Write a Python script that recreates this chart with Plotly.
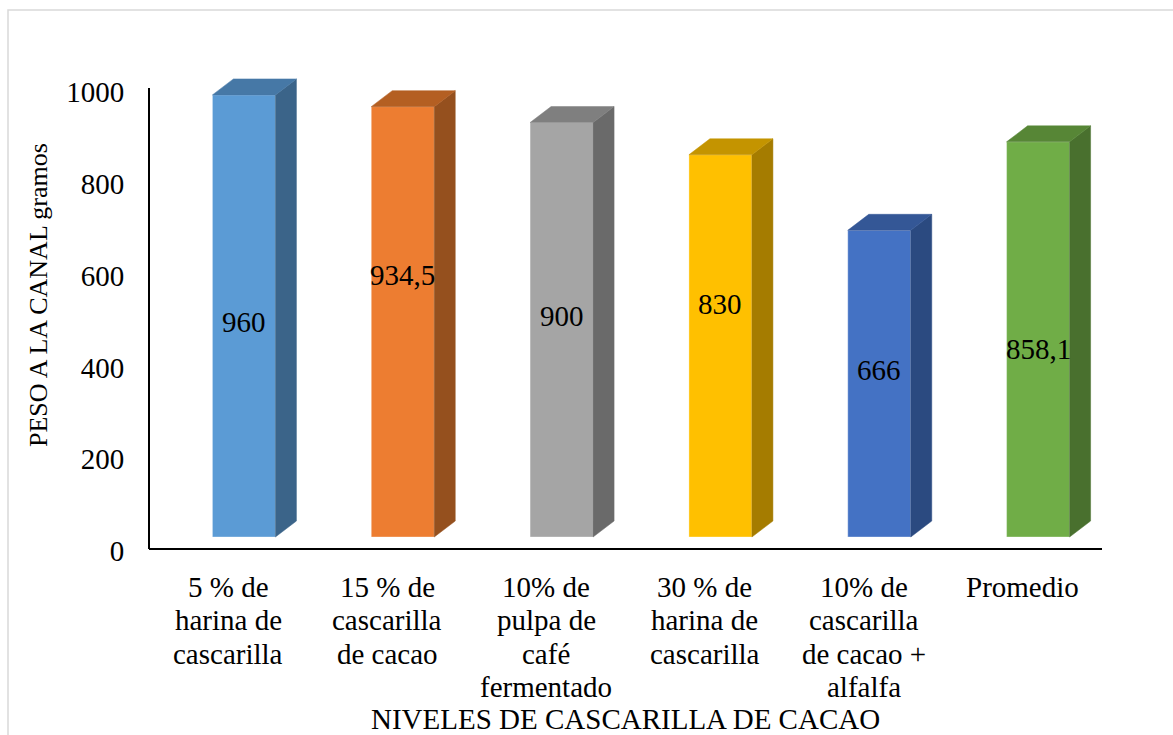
import plotly.graph_objects as go

# ---------------- data ----------------
categories = [
    "5 % de<br>harina de<br>cascarilla",
    "15 % de<br>cascarilla<br>de cacao",
    "10% de<br>pulpa de<br>café<br>fermentado",
    "30 % de<br>harina de<br>cascarilla",
    "10% de<br>cascarilla<br>de cacao +<br>alfalfa",
    "Promedio",
]
values = [960, 934.5, 900, 830, 666, 858.1]
value_labels = ["960", "934,5", "900", "830", "666", "858,1"]
y_ticks = [0, 200, 400, 600, 800, 1000]
x_title = "NIVELES DE CASCARILLA DE CACAO"
y_title = "PESO A LA CANAL gramos"

# ---------------- styling ----------------
front_colors = ["#5B9BD5", "#ED7D31", "#A5A5A5", "#FFC000", "#4472C4", "#70AD47"]
top_colors = ["#4678A6", "#B45F22", "#7F7F7F", "#C49400", "#345796", "#578636"]
side_colors = ["#3B6489", "#95501E", "#6A6A6A", "#A57C00", "#2B4A80", "#49702E"]
label_nudge_px = [-6, 47, 14, 42, 14, -10]

W, H = 1173, 735
ML, MR, MT, MB = 149, 71, 60, 175
plot_w = W - ML - MR
plot_h = H - MT - MB
px_per_cat = plot_w / len(categories)

# tick axis: 0 -> 551 px, 1000 -> 92 px
tick_scale = (551 - 92) / 1000.0
y1_range = [(551 - (MT + plot_h)) / tick_scale, (551 - MT) / tick_scale]
# bar axis (3-D front face): 0 -> 537 px
bar_scale = 0.4605
y2_range = [(537 - (MT + plot_h)) / bar_scale, (537 - MT) / bar_scale]

bar_off = -16 / px_per_cat
bar_w = 63 / px_per_cat
depth_dx = 21 / px_per_cat
depth_dy = 16 / bar_scale

xs = list(range(len(categories)))
FONT = "Liberation Serif"

fig = go.Figure()

# invisible anchor trace so the tick axis is drawn
fig.add_trace(go.Scatter(x=[xs[0]], y=[y_ticks[0]], mode="markers",
                         marker=dict(opacity=0), yaxis="y",
                         showlegend=False, hoverinfo="skip"))

# front faces
fig.add_trace(go.Bar(
    x=xs, y=values, base=0, width=bar_w, offset=bar_off,
    marker=dict(color=front_colors, line=dict(color="rgba(255,255,255,0.35)", width=1)),
    yaxis="y2", showlegend=False, hoverinfo="skip",
))

# side and top faces derived from values
for i, v in enumerate(values):
    xl = i + bar_off
    xr = xl + bar_w
    fig.add_trace(go.Scatter(
        x=[xr, xr + depth_dx, xr + depth_dx, xr, xr],
        y=[0, depth_dy, v + depth_dy, v, 0],
        fill="toself", fillcolor=side_colors[i], mode="lines",
        line=dict(width=0.5, color=side_colors[i]), yaxis="y2",
        showlegend=False, hoverinfo="skip",
    ))
    fig.add_trace(go.Scatter(
        x=[xl, xl + depth_dx, xr + depth_dx, xr, xl],
        y=[v, v + depth_dy, v + depth_dy, v, v],
        fill="toself", fillcolor=top_colors[i], mode="lines",
        line=dict(width=0.5, color=top_colors[i]), yaxis="y2",
        showlegend=False, hoverinfo="skip",
    ))

annotations = []
for i, (v, lab) in enumerate(zip(values, value_labels)):
    annotations.append(dict(
        x=i + bar_off + bar_w / 2, y=v / 2, xref="x", yref="y2",
        text=lab, showarrow=False, yanchor="middle", xanchor="center",
        yshift=label_nudge_px[i], font=dict(size=29, color="#000", family=FONT),
    ))

# category labels line by line (tight line spacing)
for i, cat in enumerate(categories):
    for k, line in enumerate(cat.split("<br>")):
        annotations.append(dict(
            x=i, y=0, xref="x", yref="paper", text=line, showarrow=False,
            xanchor="center", yanchor="middle", yshift=-(27 + 33.3 * k),
            font=dict(size=29, color="#000", family=FONT),
        ))

annotations.append(dict(
    x=0.5, y=0, xref="paper", yref="paper", text=x_title, showarrow=False,
    xanchor="center", yanchor="middle", yshift=-(719 - (MT + plot_h)),
    font=dict(size=29, color="#000", family=FONT),
))
annotations.append(dict(
    x=0, y=(MT + plot_h - 295) / plot_h, xref="paper", yref="paper",
    text=y_title, showarrow=False, textangle=-90,
    xanchor="center", yanchor="middle", xshift=-(ML - 38),
    font=dict(size=26, color="#000", family=FONT),
))

shapes = [
    dict(type="rect", xref="paper", yref="paper",
         x0=(8 - ML) / plot_w, x1=(W + 20 - ML) / plot_w,
         y0=(MT + plot_h - (H + 20)) / plot_h, y1=(MT + plot_h - 10) / plot_h,
         line=dict(color="#D9D9D9", width=1.5), layer="below"),
    dict(type="line", xref="paper", yref="paper", x0=0, x1=0,
         y0=(MT + plot_h - 549) / plot_h, y1=(MT + plot_h - 88) / plot_h,
         line=dict(color="#000", width=2)),
    dict(type="line", xref="paper", yref="paper", x0=0, x1=1,
         y0=(MT + plot_h - 549) / plot_h, y1=(MT + plot_h - 549) / plot_h,
         line=dict(color="#000", width=2)),
]

fig.update_layout(
    width=W, height=H, autosize=False,
    margin=dict(l=ML, r=MR, t=MT, b=MB, pad=0),
    paper_bgcolor="white", plot_bgcolor="white",
    showlegend=False,
    font=dict(family=FONT, size=29, color="#000"),
    xaxis=dict(range=[-0.5, len(categories) - 0.5], showgrid=False, zeroline=False,
               showline=False, showticklabels=False, ticks="", fixedrange=True),
    yaxis=dict(range=y1_range, tickmode="array", tickvals=y_ticks,
               ticktext=[str(t) for t in y_ticks], showticklabels=True,
               showgrid=False, zeroline=False, showline=False, ticks="outside",
               ticklen=18, tickcolor="rgba(0,0,0,0)",
               tickfont=dict(size=29, family=FONT, color="#000")),
    yaxis2=dict(range=y2_range, overlaying="y", visible=False, showgrid=False,
                zeroline=False),
    annotations=annotations,
    shapes=shapes,
)

fig.write_html("out.html")
